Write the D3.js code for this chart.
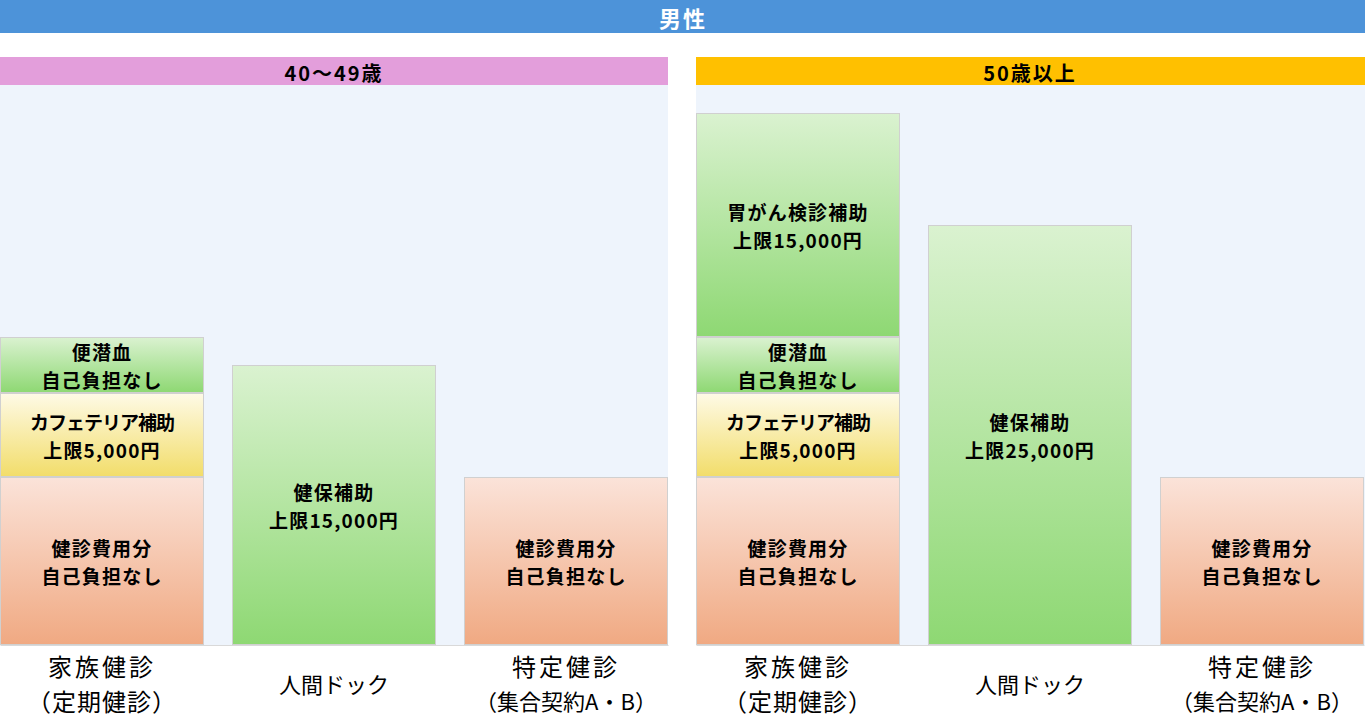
<!DOCTYPE html>
<html><head><meta charset="utf-8">
<script src="https://cdn.jsdelivr.net/npm/d3@7"></script>
<style>
html,body{margin:0;padding:0;background:#fff;}
svg{display:block;font-family:"Noto Sans CJK JP","Noto Sans",sans-serif;}
</style></head>
<body>
<svg id="chart" width="1365" height="722"></svg>
<script>
// ---- data ----
const title = "男性";
const panelTitles = ["40～49歳", "50歳以上"];
const categories = ["家族健診\n（定期健診）", "人間ドック", "特定健診\n（集合契約A・B）"];

// segments (stacked bottom -> top), schematic units
const seg40Category = [0, 0, 0, 1, 2];
const seg40Value    = [6, 3, 2, 10, 6];
const seg40Label    = ["健診費用分\n自己負担なし", "カフェテリア補助\n上限5,000円", "便潜血\n自己負担なし", "健保補助\n上限15,000円", "健診費用分\n自己負担なし"];
const seg40Kind     = ["self", "cafe", "subsidy", "subsidy", "self"];

const seg50Category = [0, 0, 0, 0, 1, 2];
const seg50Value    = [6, 3, 2, 8, 15, 6];
const seg50Label    = ["健診費用分\n自己負担なし", "カフェテリア補助\n上限5,000円", "便潜血\n自己負担なし", "胃がん検診補助\n上限15,000円", "健保補助\n上限25,000円", "健診費用分\n自己負担なし"];
const seg50Kind     = ["self", "cafe", "subsidy", "subsidy", "subsidy", "self"];

const yMax = 20;

// ---- styles ----
const kindColors = {
  self:    ["#FBE3D9", "#F0A982"],
  cafe:    ["#FEFAE6", "#F2DD6A"],
  subsidy: ["#DAF2D0", "#8ED873"]
};
const headerColors = ["#E39EDB", "#FFC000"];

const svg = d3.select("#chart");
const defs = svg.append("defs");
Object.entries(kindColors).forEach(([k, c]) => {
  const g = defs.append("linearGradient").attr("id", "g-" + k)
    .attr("x1", 0).attr("y1", 0).attr("x2", 0).attr("y2", 1);
  g.append("stop").attr("offset", "0%").attr("stop-color", c[0]);
  g.append("stop").attr("offset", "100%").attr("stop-color", c[1]);
});

// title bar
svg.append("rect").attr("x", 0).attr("y", 0).attr("width", 1365).attr("height", 33).attr("fill", "#4D93D9");
svg.append("text").attr("x", 683).attr("y", 17).attr("text-anchor", "middle").attr("dominant-baseline", "central")
  .attr("fill", "#fff").attr("font-weight", "bold").attr("font-size", 22).attr("letter-spacing", 2).text(title);

const y = d3.scaleLinear().domain([0, yMax]).range([645, 85]);

const panels = [
  {x0: 0, cat: seg40Category, val: seg40Value, lab: seg40Label, kind: seg40Kind},
  {x0: 696, cat: seg50Category, val: seg50Value, lab: seg50Label, kind: seg50Kind}
];
const panelW = 668;
const hasKana = s => /[ァ-ヶ]/.test(s);

panels.forEach((p, pi) => {
  const g = svg.append("g").attr("transform", `translate(${p.x0},0)`);
  const bgW = pi === 0 ? panelW : 669;
  // header
  g.append("rect").attr("x", 0).attr("y", 57).attr("width", bgW).attr("height", 28).attr("fill", headerColors[pi]);
  g.append("text").attr("x", panelW / 2).attr("y", 72).attr("text-anchor", "middle").attr("dominant-baseline", "central")
    .attr("font-weight", "bold").attr("font-size", 20).attr("letter-spacing", 2).attr("fill", "#000").text(panelTitles[pi]);
  // plot bg
  g.append("rect").attr("x", 0).attr("y", y(yMax)).attr("width", bgW).attr("height", y(0) - y(yMax)).attr("fill", "#EEF4FC");

  const x = d3.scaleBand().domain(d3.range(categories.length)).range([0, panelW]).paddingInner(28 / 232).paddingOuter(0);

  // stack
  const cum = categories.map(() => 0);
  const segs = p.val.map((v, i) => {
    const c = p.cat[i];
    const s = {c, y0: cum[c], y1: cum[c] + v, label: p.lab[i], kind: p.kind[i]};
    cum[c] += v;
    return s;
  });

  const sg = g.selectAll("g.seg").data(segs).join("g").attr("class", "seg");
  sg.append("rect")
    .attr("x", d => x(d.c) + 0.5)
    .attr("y", d => y(d.y1) + 0.5)
    .attr("width", x.bandwidth() - 1)
    .attr("height", d => y(d.y0) - y(d.y1) - 1)
    .attr("fill", d => `url(#g-${d.kind})`)
    .attr("stroke", "#D0D0D0").attr("stroke-width", 1);
  sg.each(function(d) {
    const lines = d.label.split("\n");
    const cy = (y(d.y0) + y(d.y1)) / 2;
    const t = d3.select(this).append("text").attr("text-anchor", "middle")
      .attr("font-weight", "bold").attr("font-size", 19).attr("fill", "#000");
    lines.forEach((ln, i) => {
      t.append("tspan").attr("x", x(d.c) + x.bandwidth() / 2)
        .attr("y", cy + (i - (lines.length - 1) / 2) * 28)
        .attr("dominant-baseline", "central")
        .attr("letter-spacing", hasKana(ln) ? -1 : 1.2)
        .text(ln);
    });
  });

  // baseline axis
  const axis = d3.axisBottom(x).tickSize(0).tickFormat("");
  const ag = g.append("g").attr("transform", `translate(0,${y(0)})`).call(axis);
  ag.select(".domain").attr("stroke", "#D9D9D9");

  // category labels
  categories.forEach((c, i) => {
    const lines = c.split("\n");
    const t = g.append("text").attr("text-anchor", "middle").attr("fill", "#000");
    const cx = x(i) + x.bandwidth() / 2;
    const base = lines.length === 1 ? 683 : 665;
    lines.forEach((ln, j) => {
      const dense = hasKana(ln) || ln.indexOf("・") >= 0;
      t.append("tspan").attr("x", cx).attr("y", base + j * 35).attr("dominant-baseline", "central")
        .attr("font-size", dense ? 22 : 24)
        .attr("letter-spacing", dense ? 0 : (j === 0 ? 3 : 1))
        .text(ln);
    });
  });
});
</script>
</body></html>
